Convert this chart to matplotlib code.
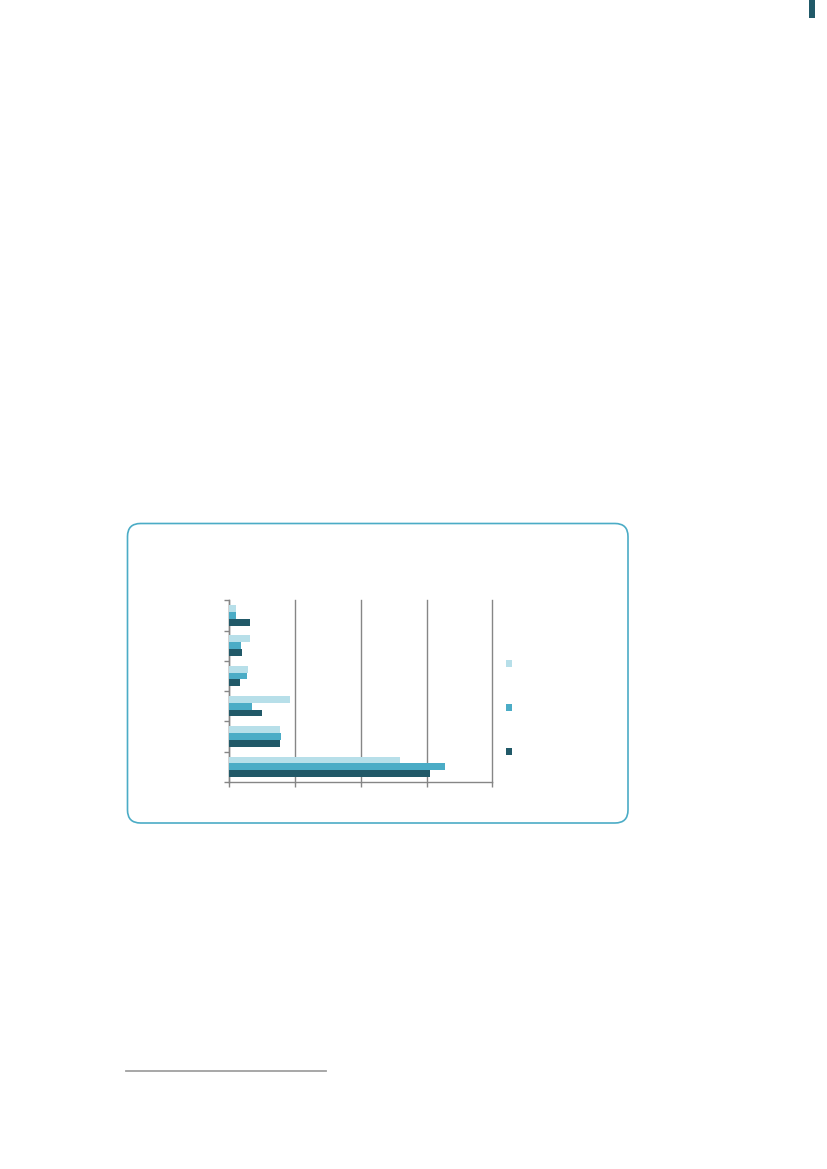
import matplotlib
matplotlib.use("Agg")
import matplotlib.pyplot as plt
import numpy as np
from matplotlib.patches import FancyBboxPatch, Rectangle
from matplotlib.lines import Line2D

# values (top category first), axis 0..40
categories = ["c1", "c2", "c3", "c4", "c5", "c6"]
series_light = [1.0, 3.1, 2.9, 9.2, 7.7, 25.9]
series_mid = [1.0, 1.8, 2.7, 3.5, 7.8, 32.8]
series_dark = [3.2, 1.9, 1.6, 5.0, 7.7, 30.5]
x_ticks = [0, 10, 20, 30, 40]

c_light = "#b7dfe9"
c_mid = "#4bacc6"
c_dark = "#215968"
grey = "#868686"

fig = plt.figure(figsize=(8.27, 11.69), dpi=100)

# rounded frame around the chart
frame = FancyBboxPatch((1.275, 3.46), 5.005, 2.995,
                       boxstyle="round,pad=0,rounding_size=0.13",
                       transform=fig.dpi_scale_trans, fill=False,
                       edgecolor="#4bacc6", linewidth=1.2)
fig.add_artist(frame)

# small mark at the top right corner of the page
fig.add_artist(Rectangle((8.09, 11.51), 0.06, 0.18, transform=fig.dpi_scale_trans,
                         facecolor=c_dark, edgecolor="none"))

# footnote rule
fig.add_artist(Line2D([1.26, 3.26], [0.983, 0.983], transform=fig.dpi_scale_trans,
                      color="#a0a0a0", linewidth=1.3))

ax = fig.add_axes([0.2773, 0.3311, 0.318, 0.1554])
y = np.arange(len(categories))
h = 0.225
ax.barh(y - h, series_light, height=h, color=c_light, label=" ", zorder=3)
ax.barh(y, series_mid, height=h, color=c_mid, label=" ", zorder=3)
ax.barh(y + h, series_dark, height=h, color=c_dark, label=" ", zorder=3)

ax.set_xlim(x_ticks[0], x_ticks[-1])
ax.set_ylim(len(categories) - 0.5, -0.5)
ax.set_xticks(x_ticks)
ax.set_yticks(np.arange(-0.5, len(categories), 1.0))
ax.set_xticklabels([])
ax.set_yticklabels([])
ax.tick_params(axis="both", direction="out", length=3.5, width=1, color=grey)
ax.grid(axis="x", color=grey, linewidth=1, zorder=0)
for gl in ax.get_xgridlines():
    gl.set_clip_on(False)
ax.set_axisbelow(True)
for side in ["top", "right"]:
    ax.spines[side].set_visible(False)
for side in ["left", "bottom"]:
    ax.spines[side].set_color(grey)
    ax.spines[side].set_linewidth(1)

leg = ax.legend(loc="center left", bbox_to_anchor=(1.03, 0.405), frameon=False,
                fontsize=8, handlelength=0.6, handleheight=0.6,
                labelspacing=3.05, borderpad=0)

fig.savefig("out.png", dpi=100)
